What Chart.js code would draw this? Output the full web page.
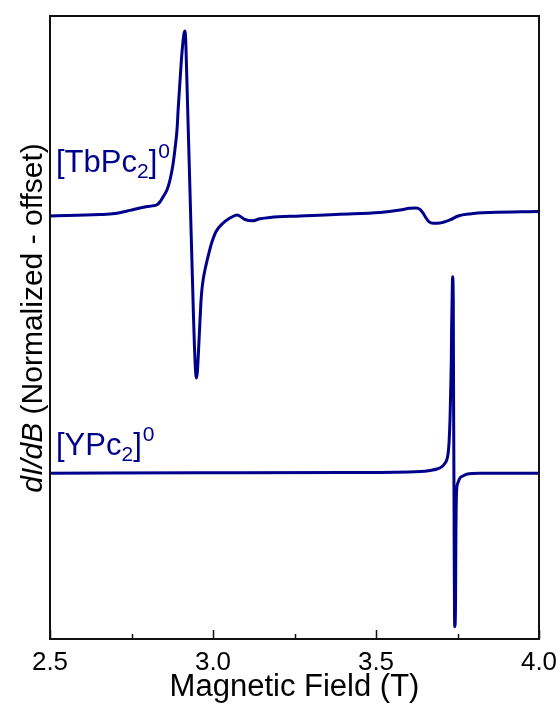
<!DOCTYPE html>
<html>
<head>
<meta charset="utf-8">
<script src="https://cdn.jsdelivr.net/npm/chart.js@4"></script>
<style>
  html, body { margin: 0; padding: 0; background: #ffffff; }
  #wrap { width: 560px; height: 709px; position: relative; }
</style>
</head>
<body>
<div id="wrap"><canvas id="epr"></canvas></div>
<script>
// EPR derivative spectra, field in tesla, signal normalized to unit peak-to-peak
const fieldTb = [2.500, 2.653, 2.699, 2.745, 2.776, 2.798, 2.813, 2.828, 2.837, 2.847, 2.859, 2.868, 2.877, 2.883, 2.890, 2.893, 2.897, 2.900, 2.905, 2.910, 2.913, 2.916, 2.919, 2.922, 2.925, 2.928, 2.931, 2.934, 2.937, 2.940, 2.943, 2.946, 2.949, 2.952, 2.955, 2.958, 2.963, 2.966, 2.970, 2.975, 2.981, 2.988, 2.997, 3.009, 3.028, 3.052, 3.074, 3.098, 3.120, 3.144, 3.175, 3.267, 3.390, 3.512, 3.574, 3.604, 3.623, 3.635, 3.644, 3.653, 3.663, 3.675, 3.696, 3.727, 3.752, 3.788, 3.850, 4.000];
const signalTb = [-0.004, 0.000, 0.003, 0.012, 0.019, 0.023, 0.025, 0.028, 0.036, 0.051, 0.071, 0.099, 0.142, 0.185, 0.248, 0.300, 0.357, 0.400, 0.466, 0.512, 0.526, 0.506, 0.415, 0.314, 0.214, 0.114, 0.013, -0.087, -0.187, -0.288, -0.374, -0.440, -0.468, -0.451, -0.401, -0.344, -0.250, -0.215, -0.185, -0.160, -0.135, -0.108, -0.078, -0.049, -0.027, -0.010, -0.001, -0.014, -0.018, -0.012, -0.008, -0.004, 0.001, 0.006, 0.013, 0.018, 0.019, 0.015, 0.005, -0.009, -0.021, -0.025, -0.024, -0.015, -0.004, 0.002, 0.006, 0.009];

const fieldY = [2.500, 2.960, 3.420, 3.635, 3.666, 3.687, 3.702, 3.710, 3.717, 3.721, 3.724, 3.727, 3.729, 3.731, 3.732, 3.734, 3.735, 3.737, 3.738, 3.739, 3.740, 3.741, 3.742, 3.744, 3.745, 3.747, 3.751, 3.758, 3.767, 3.778, 3.819, 4.000];
const signalY = [-0.001, 0.000, 0.001, 0.004, 0.007, 0.011, 0.018, 0.026, 0.037, 0.054, 0.086, 0.152, 0.229, 0.324, 0.418, 0.524, 0.562, 0.496, 0.209, 0.000, -0.249, -0.421, -0.441, -0.364, -0.192, -0.057, -0.029, -0.014, -0.009, -0.004, -0.001, -0.001];

// vertical offsets used to stack the two traces
const offsetTb = 0.74;
const offsetY = 0.0;

// axis ticks
const majorTicks = [2.5, 3.0, 3.5, 4.0];
const majorTickLabels = ['2.5', '3.0', '3.5', '4.0'];
const minorTicks = [2.75, 3.25, 3.75];

const FONT = "'Liberation Sans', Arial, Helvetica, sans-serif";
const NAVY = '#00008b';

function toPoints(xs, ys, off) {
  return xs.map((x, i) => ({ x: x, y: ys[i] + off }));
}

// frame, inward ticks, y title and series labels
const decorations = {
  id: 'decorations',
  afterDraw(chart) {
    const ctx = chart.ctx;
    const a = chart.chartArea;
    const xs = chart.scales.x;
    ctx.save();

    // frame
    ctx.strokeStyle = '#111111';
    ctx.lineWidth = 2;
    ctx.strokeRect(a.left, a.top, a.right - a.left, a.bottom - a.top);

    // inward ticks on the bottom axis
    ctx.lineWidth = 1.5;
    ctx.beginPath();
    majorTicks.forEach(v => {
      const px = Math.round(xs.getPixelForValue(v)) + 0.5;
      ctx.moveTo(px, a.bottom);
      ctx.lineTo(px, a.bottom - 9);
    });
    minorTicks.forEach(v => {
      const px = Math.round(xs.getPixelForValue(v)) + 0.5;
      ctx.moveTo(px, a.bottom);
      ctx.lineTo(px, a.bottom - 5);
    });
    ctx.stroke();

    // rotated y title with italic dI/dB
    ctx.save();
    ctx.translate(42, 318);
    ctx.rotate(-Math.PI / 2);
    ctx.fillStyle = '#000000';
    ctx.textBaseline = 'alphabetic';
    ctx.textAlign = 'left';
    const partA = 'dI/dB';
    const partB = ' (Normalized - offset)';
    ctx.font = 'italic 30px ' + FONT;
    const wA = ctx.measureText(partA).width;
    ctx.font = '30px ' + FONT;
    const wB = ctx.measureText(partB).width;
    const x0 = -(wA + wB) / 2;
    ctx.font = 'italic 30px ' + FONT;
    ctx.fillText(partA, x0, 0);
    ctx.font = '30px ' + FONT;
    ctx.fillText(partB, x0 + wA, 0);
    ctx.restore();

    // series labels with sub- and superscripts
    function chemLabel(x, y, head) {
      ctx.fillStyle = NAVY;
      ctx.textBaseline = 'alphabetic';
      ctx.textAlign = 'left';
      ctx.font = '31px ' + FONT;
      ctx.fillText(head, x, y);
      x += ctx.measureText(head).width;
      ctx.font = '21px ' + FONT;
      ctx.fillText('2', x, y + 6);
      x += ctx.measureText('2').width;
      ctx.font = '31px ' + FONT;
      ctx.fillText(']', x, y);
      x += ctx.measureText(']').width + 1;
      ctx.font = '21px ' + FONT;
      ctx.fillText('0', x, y - 14);
    }
    chemLabel(a.left + 6, 172, '[TbPc');
    chemLabel(a.left + 6, 455, '[YPc');

    ctx.restore();
  }
};

new Chart(document.getElementById('epr'), {
  type: 'line',
  data: {
    datasets: [
      {
        label: '[TbPc2]0',
        data: toPoints(fieldTb, signalTb, offsetTb),
        borderColor: NAVY,
        borderWidth: 3,
        pointRadius: 0,
        cubicInterpolationMode: 'monotone',
        borderJoinStyle: 'round',
        borderCapStyle: 'round',
        fill: false
      },
      {
        label: '[YPc2]0',
        data: toPoints(fieldY, signalY, offsetY),
        borderColor: NAVY,
        borderWidth: 3,
        pointRadius: 0,
        cubicInterpolationMode: 'monotone',
        borderJoinStyle: 'round',
        borderCapStyle: 'round',
        fill: false
      }
    ]
  },
  options: {
    responsive: true,
    maintainAspectRatio: false,
    animation: false,
    events: [],
    layout: { padding: { left: 50, right: 21, top: 16, bottom: 0 } },
    plugins: {
      legend: { display: false },
      tooltip: { enabled: false }
    },
    scales: {
      x: {
        type: 'linear',
        min: 2.5,
        max: 4.0,
        afterBuildTicks(scale) {
          scale.ticks = majorTicks.map(v => ({ value: v }));
        },
        afterFit(scale) {
          scale.height = 70;
          scale.paddingLeft = 0;
          scale.paddingRight = 0;
        },
        grid: { display: false, drawTicks: false },
        border: { display: false },
        ticks: {
          color: '#000000',
          font: { family: FONT, size: 26 },
          padding: 8,
          maxRotation: 0,
          autoSkip: false,
          callback(value, index) { return majorTickLabels[index]; }
        },
        title: {
          display: true,
          text: 'Magnetic Field (T)',
          color: '#000000',
          font: { family: FONT, size: 31 },
          padding: { top: 0, bottom: 3 }
        }
      },
      y: {
        display: false,
        min: -0.476,
        max: 1.309
      }
    }
  },
  plugins: [decorations]
});
</script>
</body>
</html>
